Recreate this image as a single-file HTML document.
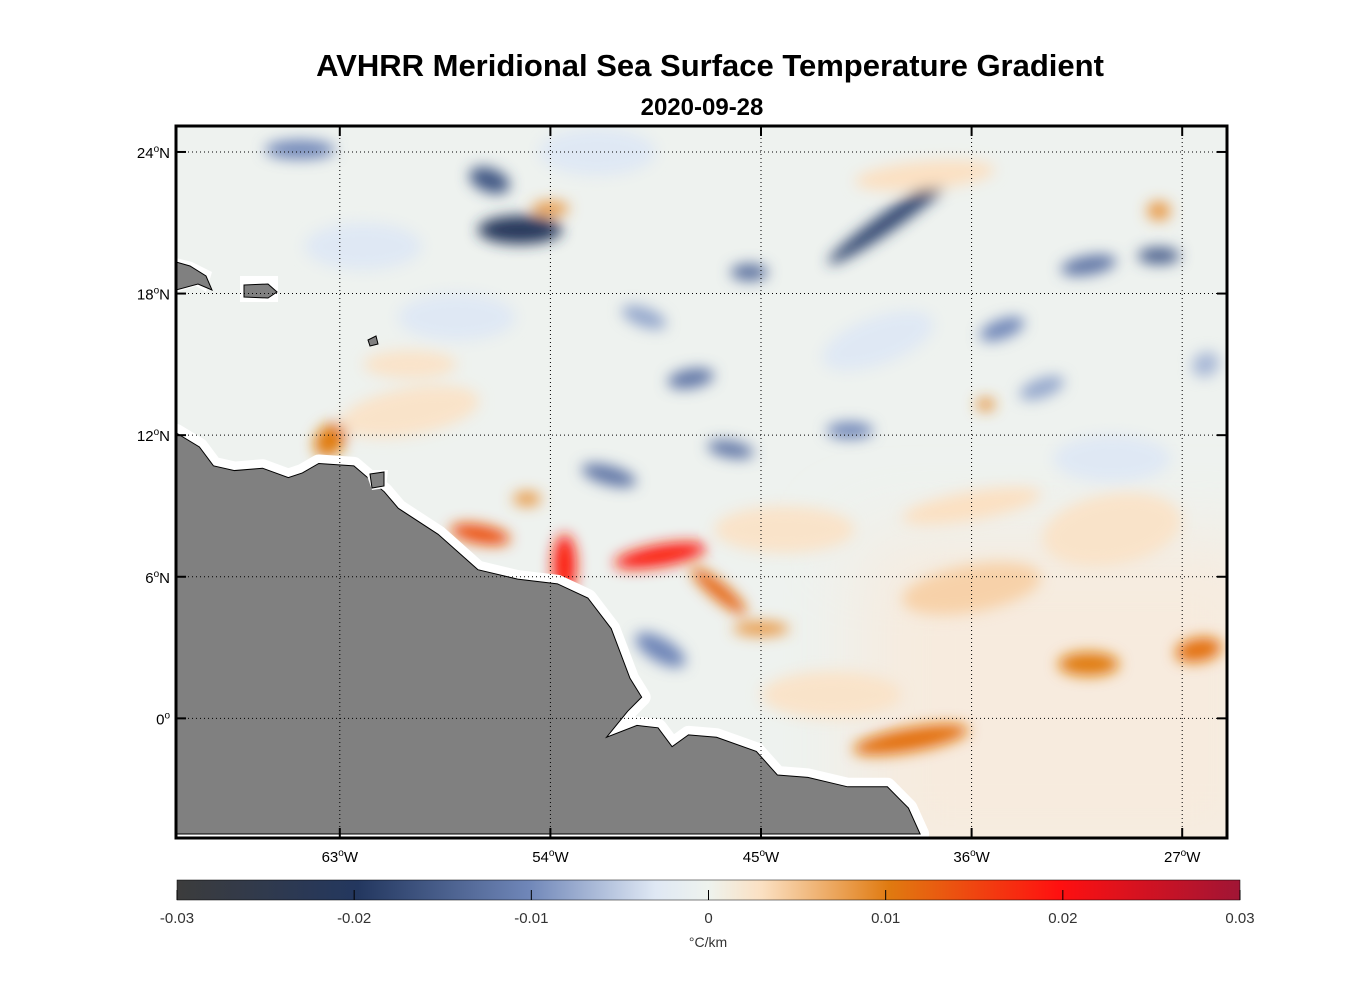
<!DOCTYPE html>
<html><head><meta charset="utf-8"><style>
body{margin:0;background:#fff;font-family:"Liberation Sans",sans-serif;}
svg text{font-family:"Liberation Sans",sans-serif;}
</style></head><body>
<svg id="chart" width="1356" height="1000" xmlns="http://www.w3.org/2000/svg">
<defs>
<filter id="blur" x="-50%" y="-50%" width="200%" height="200%"><feGaussianBlur stdDeviation="7"/></filter>
<filter id="blur2" x="-50%" y="-50%" width="200%" height="200%"><feGaussianBlur stdDeviation="40"/></filter>
<clipPath id="clip"><rect x="176" y="126" width="1051" height="712"/></clipPath>
<linearGradient id="cbar" x1="0" x2="1" y1="0" y2="0">
<stop offset="0" stop-color="#3c3c3c"/><stop offset="0.17" stop-color="#23375f"/>
<stop offset="0.33" stop-color="#6f86b8"/><stop offset="0.45" stop-color="#dfe8f4"/>
<stop offset="0.5" stop-color="#eef3ee"/><stop offset="0.55" stop-color="#fbe0c2"/>
<stop offset="0.67" stop-color="#e07a10"/><stop offset="0.83" stop-color="#ff1010"/>
<stop offset="1" stop-color="#a01535"/></linearGradient>
</defs>
<text x="710" y="76" text-anchor="middle" font-size="31" font-weight="bold">AVHRR Meridional Sea Surface Temperature Gradient</text>
<text x="702" y="115" text-anchor="middle" font-size="24" font-weight="bold">2020-09-28</text>
<rect x="176" y="126" width="1051" height="712" fill="#eef2ef"/>
<g clip-path="url(#clip)"><g filter="url(#blur2)"><rect x="860" y="540" width="420" height="340" fill="#f7ebde"/></g></g>
<g id="field" clip-path="url(#clip)" filter="url(#blur)"></g>
<g id="land" clip-path="url(#clip)"></g>
<g id="grid"></g>
<rect x="176" y="126" width="1051" height="712" fill="none" stroke="#000" stroke-width="3"/>
<g id="axes"></g>
<rect x="177" y="880" width="1063" height="20" fill="url(#cbar)" stroke="#000" stroke-width="0.5"/>
<g id="cbticks"></g>
<text x="708" y="947" text-anchor="middle" font-size="14" fill="#333">°C/km</text>
</svg>
<script>
const blobLon=[-55.3,-56.6,-39.5,-45.5,-48,-46.3,-51.5,-64.7,-28,-31,-34.7,-41.2,-49.3,-53.4,-57,-46.8,-63.4,-38.6,-31,-26.3,-55,-54,-28,-35.4,-45,-49.3,-36,-30,-42,-60,-50,-33,-26,-44,-38,-58,-62,-52,-40,-30,-36,-60];
const blobLat=[20.7,22.8,21.1,18.9,14.4,11.4,10.3,24.1,19.6,19.2,16.5,12.2,6.9,6.5,7.8,5.4,11.8,-0.9,2.3,2.9,9.3,21.6,21.5,13.3,3.8,2.9,5.5,8,1,13,17,14,15,8,23,17,20,24,16,11,9,15];
const blobVal=[-0.021,-0.016,-0.018,-0.013,-0.012,-0.012,-0.012,-0.01,-0.015,-0.012,-0.01,-0.01,0.019,0.019,0.014,0.012,0.01,0.011,0.01,0.011,0.008,0.008,0.008,0.009,0.008,-0.01,0.004,0.0025,0.0025,0.0025,-0.008,-0.008,-0.007,0.0025,0.003,-0.004,-0.004,-0.004,-0.004,-0.004,0.003,0.0025];
const blobRx=[1.8,0.9,3.2,0.8,1,1,1.2,1.5,0.9,1.2,1,1,2,0.5,1.3,1.5,0.6,2.5,1.3,1,0.6,0.8,0.5,0.4,1.2,1.2,3,3,3,3,1,1,0.6,3,3,2.5,2.5,2.5,2.5,2.5,3,2];
const blobRy=[0.6,0.5,0.4,0.35,0.4,0.35,0.4,0.4,0.35,0.4,0.4,0.35,0.45,1.3,0.4,0.35,0.8,0.5,0.5,0.5,0.3,0.3,0.4,0.25,0.3,0.5,1,1.5,1,1,0.4,0.4,0.5,1,0.6,1,1,1,1,1,0.6,0.6];
const blobRot=[0,20,-35,0,-10,10,15,0,0,-10,-20,0,-10,0,10,40,40,-10,0,-10,0,0,0,0,0,30,-10,-10,0,-10,20,-20,-30,0,-5,0,0,0,-20,0,-10,0];
const coastLon=[-70,-69,-68.4,-67.5,-66.3,-65.2,-64.6,-63.9,-62.4,-61.1,-60.5,-58.8,-57.1,-55.4,-53.7,-52.4,-51.4,-50.6,-50.1,-50.7,-51.6,-50.3,-49.4,-48.8,-48.1,-46.9,-45.2,-44.3,-43,-41.3,-39.6,-38.7,-38.2,-70];
const coastLat=[12.1,11.5,10.7,10.5,10.6,10.2,10.4,10.8,10.7,9.6,8.9,7.8,6.3,5.9,5.7,5.1,3.8,1.7,0.9,0.3,-0.8,-0.3,-0.4,-1.2,-0.7,-0.8,-1.4,-2.4,-2.5,-2.9,-2.9,-3.8,-4.9,-4.9];
const lonTicks=[-63,-54,-45,-36,-27];
const latTicks=[24,18,12,6,0];
const cbTicks=[-0.03,-0.02,-0.01,0,0.01,0.02,0.03];
const cbLabels=["-0.03","-0.02","-0.01","0","0.01","0.02","0.03"];
const X=lon=>176+(lon+70)*23.4, Y=lat=>126+(25.1-lat)*23.6, CB=v=>708.5+v/0.03*531.5;
const NS="http://www.w3.org/2000/svg";
function mk(t,a,p){const e=document.createElementNS(NS,t);for(const k in a)e.setAttribute(k,a[k]);p.appendChild(e);return e;}
function col(v){const s=[[-0.03,[60,60,60]],[-0.02,[35,55,95]],[-0.01,[111,134,184]],[-0.004,[223,232,244]],[0,[238,243,238]],[0.003,[251,224,194]],[0.01,[224,122,16]],[0.02,[255,16,16]],[0.03,[160,21,53]]];
for(let i=0;i<s.length-1;i++){if(v<=s[i+1][0]){const f=(v-s[i][0])/(s[i+1][0]-s[i][0]);const c=s[i][1].map((a,j)=>Math.round(a+(s[i+1][1][j]-a)*Math.max(0,Math.min(1,f))));return `rgb(${c})`;}}return 'rgb(160,21,53)';}
const field=document.getElementById('field');
for(let i=0;i<blobLon.length;i++){const cx=X(blobLon[i]),cy=Y(blobLat[i]);
const e=mk('ellipse',{cx:cx,cy:cy,rx:blobRx[i]*23.4,ry:blobRy[i]*23.6,fill:col(blobVal[i]),transform:`rotate(${blobRot[i]} ${cx} ${cy})`},field);

}
const land=document.getElementById('land');
const pts=coastLon.map((l,i)=>X(l)+','+Y(coastLat[i])).join(' ');
mk('polygon',{points:pts,fill:'#fff',stroke:'#fff','stroke-width':18,'stroke-linejoin':'round'},land);
const lp=mk('polygon',{points:pts,fill:'#808080',stroke:'#000','stroke-width':1},land);


mk('rect',{x:240,y:276,width:38,height:26,fill:'#fff'},land);
mk('polygon',{points:'244,285 268,284 277,292 268,298 244,297',fill:'#808080',stroke:'#000','stroke-width':1},land);
mk('polygon',{points:'176,258 192,262 212,272 206,292 196,286 176,292',fill:'#fff'},land);
mk('polygon',{points:'176,262 190,266 206,276 212,290 198,284 176,290',fill:'#808080',stroke:'#000','stroke-width':1},land);
mk('polygon',{points:'368,340 376,336 378,344 370,346',fill:'#808080',stroke:'#000','stroke-width':1},land);
mk('polygon',{points:'365,470 388,470 386,488 372,490',fill:'#fff'},land);
mk('polygon',{points:'370,474 384,472 384,486 372,488',fill:'#808080',stroke:'#000','stroke-width':1},land);
const grid=document.getElementById('grid'),axes=document.getElementById('axes');
lonTicks.forEach(l=>{const x=X(l);
mk('line',{x1:x,x2:x,y1:126,y2:838,stroke:'#000','stroke-width':1,'stroke-dasharray':'1,3'},grid);
mk('line',{x1:x,x2:x,y1:126,y2:136,stroke:'#000','stroke-width':2},axes);
mk('line',{x1:x,x2:x,y1:828,y2:838,stroke:'#000','stroke-width':2},axes);
const t=mk('text',{x:x,y:862,'text-anchor':'middle','font-size':15},axes);t.innerHTML=Math.abs(l)+'<tspan dy="-6" font-size="10">o</tspan><tspan dy="6">W</tspan>';

});
latTicks.forEach(l=>{const y=Y(l);
mk('line',{x1:176,x2:1227,y1:y,y2:y,stroke:'#000','stroke-width':1,'stroke-dasharray':'1,3'},grid);
mk('line',{x1:176,x2:186,y1:y,y2:y,stroke:'#000','stroke-width':2},axes);
mk('line',{x1:1217,x2:1227,y1:y,y2:y,stroke:'#000','stroke-width':2},axes);
const t=mk('text',{x:170,y:y+6,'text-anchor':'end','font-size':15},axes);t.innerHTML=l===0?'0<tspan dy="-6" font-size="10">o</tspan>':l+'<tspan dy="-6" font-size="10">o</tspan><tspan dy="6">N</tspan>';

});
const cbt=document.getElementById('cbticks');
cbTicks.forEach((v,i)=>{const x=CB(v);
mk('line',{x1:x,x2:x,y1:890,y2:900,stroke:'#000','stroke-width':1},cbt);
const t=mk('text',{x:x,y:923,'text-anchor':'middle','font-size':15,fill:'#333'},cbt);t.textContent=cbLabels[i];

});
</script>
</body></html>
